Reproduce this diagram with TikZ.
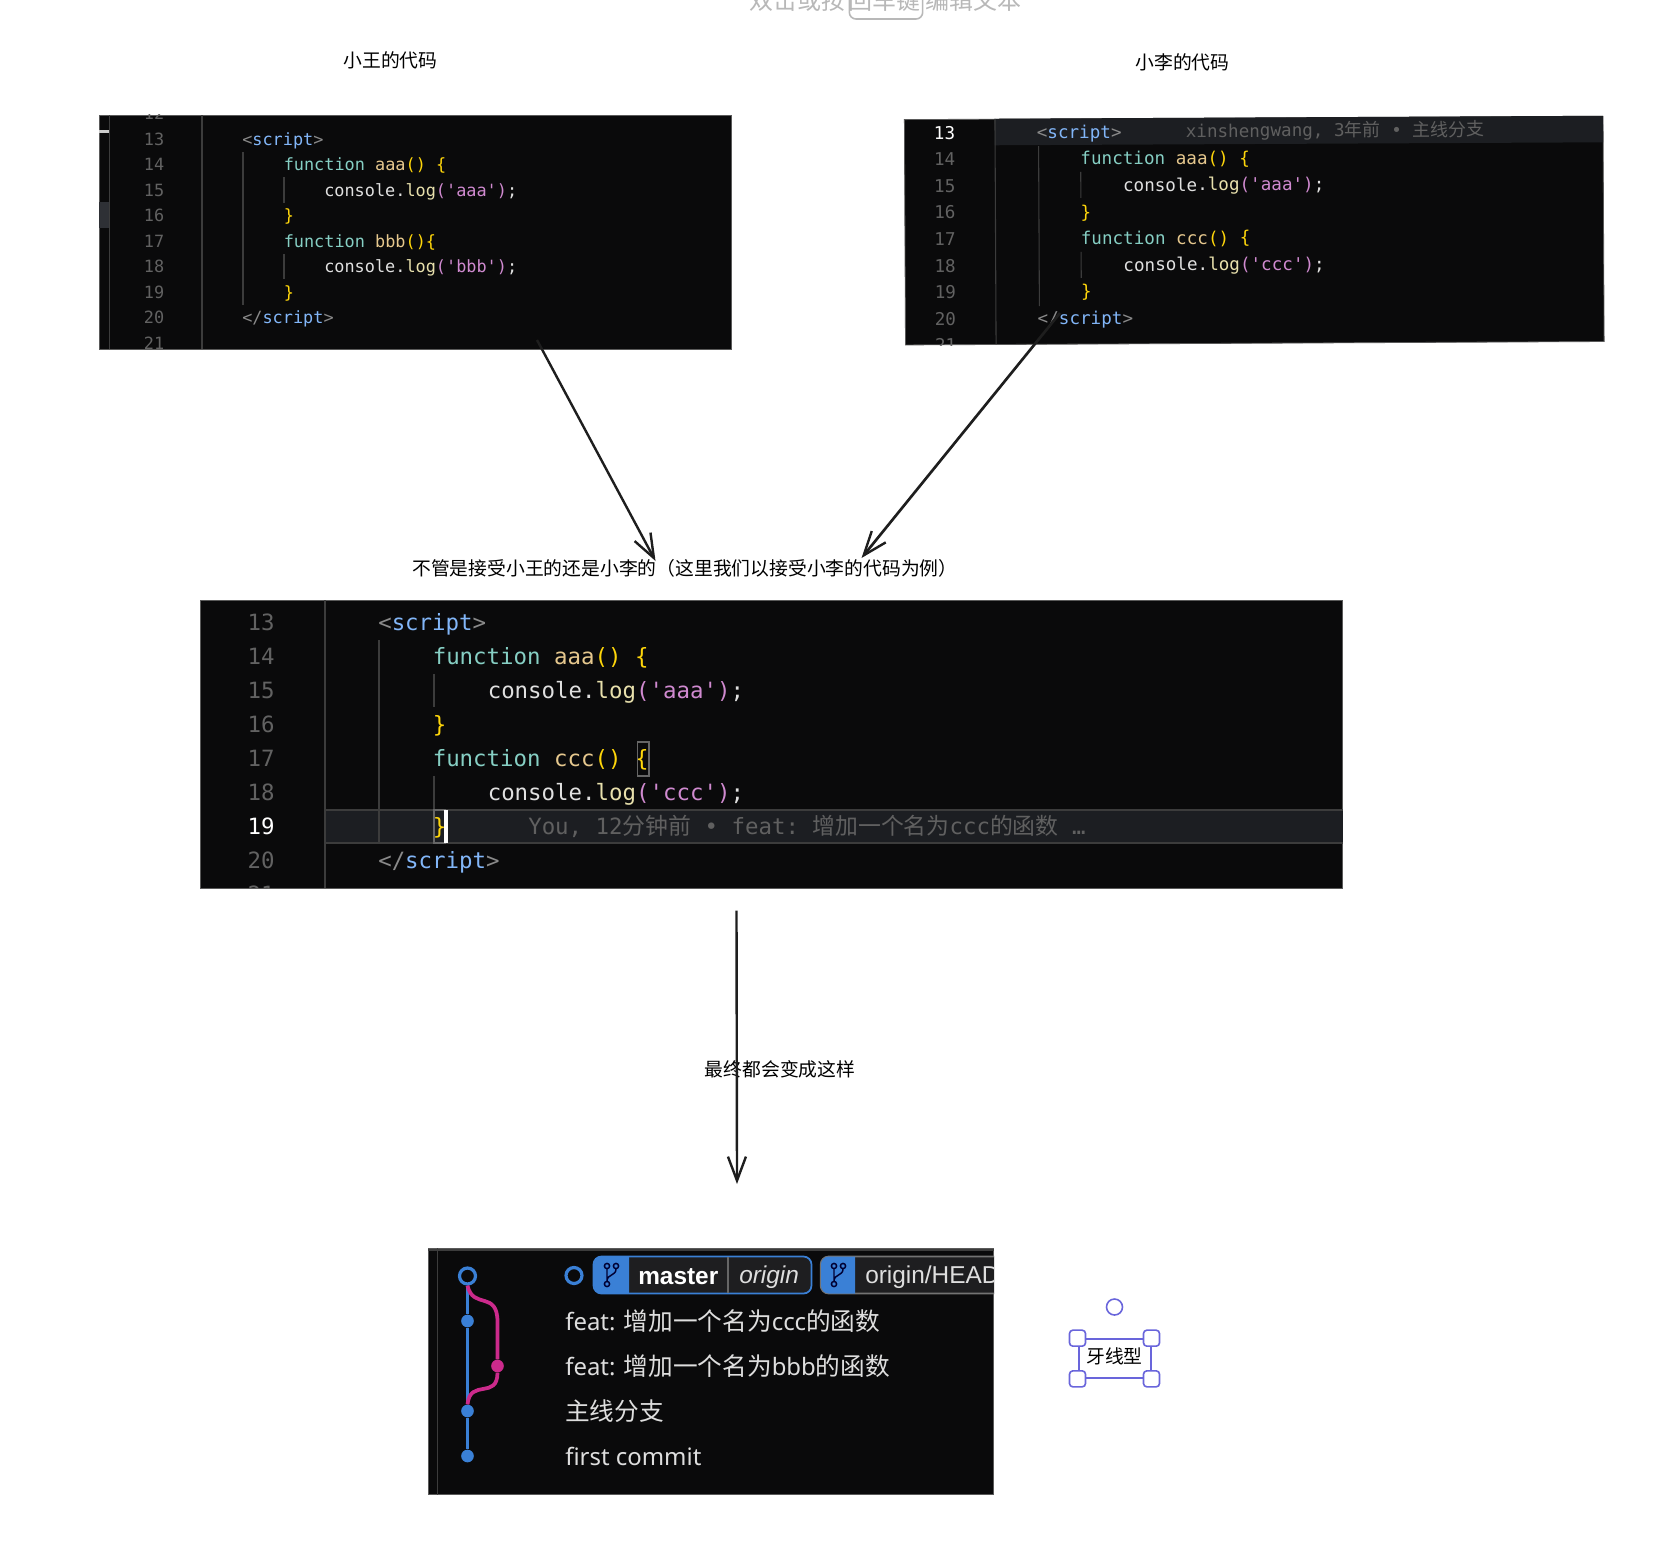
\documentclass[tikz,border=0pt]{standalone}
\usepackage{fontspec}
\usetikzlibrary{arrows.meta}
\setmainfont{Liberation Sans}
\setmonofont{DejaVu Sans Mono}
\newfontfamily\cjk{Noto Sans CJK SC}
\newfontfamily\cjkcode[Scale=1.02]{Noto Sans CJK SC}
\newfontfamily\rowfont[Scale=.97]{Noto Sans}
\definecolor{panelbg}{HTML}{0A0A0B}
\definecolor{panelline}{HTML}{5A5A5A}
\definecolor{guidecol}{HTML}{3C3C3C}
\definecolor{numcol}{HTML}{626262}
\definecolor{hlcol}{HTML}{1C1E22}
\definecolor{scrollcol}{HTML}{2E3035}
\definecolor{blamecol}{HTML}{606060}
\definecolor{fncol}{HTML}{86CFC4}
\definecolor{namecol}{HTML}{E6C88E}
\definecolor{bracecol}{HTML}{FFD60A}
\definecolor{conscol}{HTML}{E0E0E0}
\definecolor{logcol}{HTML}{E8E0AC}
\definecolor{strcol}{HTML}{D08AD0}
\definecolor{tagcol}{HTML}{8A8A8A}
\definecolor{scriptcol}{HTML}{82B6F8}
\definecolor{gitblue}{HTML}{3A80D6}
\definecolor{gitpink}{HTML}{CC2A8C}
\definecolor{gittext}{HTML}{DEDEDE}
\definecolor{badgebg}{HTML}{1E1E20}
\definecolor{selectcol}{HTML}{6965DB}
\definecolor{inkcol}{HTML}{1E1E1E}
\newcommand\kwd[1]{\textcolor{fncol}{#1}}
\newcommand\fnm[1]{\textcolor{namecol}{#1}}
\newcommand\brc[1]{\textcolor{bracecol}{#1}}
\newcommand\cns[1]{\textcolor{conscol}{console.}\textcolor{logcol}{log}\textcolor{strcol}{('#1')}\textcolor{conscol}{;}}
\newcommand\opentag{\textcolor{tagcol}{<}\textcolor{scriptcol}{script}\textcolor{tagcol}{>}}
\newcommand\closetag{\textcolor{tagcol}{</}\textcolor{scriptcol}{script}\textcolor{tagcol}{>}}
\begin{document}
\begin{tikzpicture}[
    x=.75pt, y=-.75pt,
    >={Straight Barb[length=18pt,width=13.5pt,line width=1.8pt]},
    panel/.style={rectangle, draw=panelline, fill=panelbg, line width=.6pt, anchor=north west, inner sep=0pt},
    guide/.style={guidecol, line width=.8pt},
    sizea/.style={font=\fontsize{12.65}{15}\selectfont\ttfamily},
    sizeb/.style={font=\fontsize{13.2}{15}\selectfont\ttfamily},
    sizec/.style={font=\fontsize{16.8}{20}\selectfont\ttfamily},
    code/.style={anchor=west, inner sep=0pt, text height=.8em, text depth=.2em},
    num/.style={inner sep=0pt, text=numcol, text height=.8em, text depth=.2em},
    caption/.style={inner sep=0pt, text=black, font=\cjk\fontsize{14.1}{16}\selectfont},
    arrow/.style={->, inkcol, line width=1.8pt},
    gitrow/.style={anchor=west, inner sep=0pt, text=gittext, font=\fontsize{18.5}{22}\selectfont},
    gitdot/.style={circle, fill=gitblue, inner sep=0pt, minimum size=9.5pt},
    gitring/.style={circle, draw=gitblue, fill=panelbg, line width=2.4pt, inner sep=0pt, minimum size=10pt},
    gitline/.style={gitblue, line width=2.2pt},
    pinkline/.style={gitpink, line width=2.8pt},
    badge/.style={rectangle, rounded corners=6pt, fill=badgebg, line width=1.3pt, inner sep=0pt, minimum height=27.75pt},
    handle/.style={rectangle, rounded corners=2.5pt, draw=selectcol, fill=white, line width=1.2pt, inner sep=0pt, minimum size=12pt},
    branchicon/.pic={
        \draw[black!80!blue, line width=1.1pt] (-4,-9) circle (2.6) (5,-9) circle (2.6) (-4,9) circle (2.6);
        \draw[black!80!blue, line width=1.1pt] (-4,-6) -- (-4,6) (5,-6) .. controls (5,1) and (-4,-1) .. (-4,6);
    }
]
\useasboundingbox (0,0) rectangle (1666,1546);

\node[inner sep=0pt, text=black!28, font=\cjk\fontsize{18}{20}\selectfont] (hint) at (885,0) {双击或按\,回车键\,编辑文本};
\node[rectangle, rounded corners=5pt, draw=black!28, line width=1.2pt, inner sep=0pt, minimum width=55pt, minimum height=30pt] (hintkey) at (886,-1) {};

\node[caption] (wanglabel) at (390.5,60.5) {小王的代码};
\node[caption] (lilabel) at (1182.5,62.5) {小李的代码};

\node[panel, minimum width=474pt, minimum height=175.5pt] (wangcode) at (98.5,114.5) {};
\begin{scope}
\clip (wangcode.south west) rectangle (wangcode.north east);
\fill[white!80!black] (98.5,130) rectangle (109,133);
\fill[scrollcol] (98.5,202) rectangle (109,228);
\draw[guide] (109.5,115) -- (109.5,348.5) (202,115) -- (202,348.5);
\draw[guide] (243,152) -- (243,305) (284,177) -- (284,203) (284,254) -- (284,279);
\foreach \n [evaluate=\n as \y using 141+(\n-13)*25.5] in {12,...,21}
    \node[num, sizea] (wangnum\n) at (154,\y) {\n};
\node[code, sizea] (wangline13) at (242,141) {\opentag};
\node[code, sizea] (wangline14) at (283.5,166.5) {\kwd{function} \fnm{aaa}\brc{() \{}};
\node[code, sizea] (wangline15) at (324,192) {\cns{aaa}};
\node[code, sizea] (wangline16) at (283.5,217.5) {\brc{\}}};
\node[code, sizea] (wangline17) at (283.5,243) {\kwd{function} \fnm{bbb}\brc{()\{}};
\node[code, sizea] (wangline18) at (324,268.5) {\cns{bbb}};
\node[code, sizea] (wangline19) at (283.5,294) {\brc{\}}};
\node[code, sizea] (wangline20) at (242,319.5) {\closetag};
\end{scope}

\begin{scope}[rotate around={.28:(1254,230)}, transform shape]
\node[panel, minimum width=524pt, minimum height=169pt] (licode) at (904.5,117.5) {};
\clip (licode.south west) rectangle (licode.north east);
\fill[hlcol] (995,117.5) rectangle (1603.5,144);
\draw[guide] (995.5,117.5) -- (995.5,343);
\draw[guide] (1039,145) -- (1039,305) (1081,171) -- (1081,197) (1081,251) -- (1081,277);
\foreach \n [evaluate=\n as \y using 133.5+(\n-13)*26.6] in {14,...,21}
    \node[num, sizeb] (linum\n) at (945,\y) {\n};
\node[num, sizeb, text=white] (linum13) at (945,133.5) {13};
\node[code, sizeb] (liline13) at (1037,133.5) {\opentag};
\node[code, sizeb, text=blamecol] (liblame) at (1186,133) {xinshengwang, 3{\cjkcode 年前} • {\cjkcode 主线分支}};
\node[code, sizeb] (liline14) at (1080.5,160) {\kwd{function} \fnm{aaa}\brc{() \{}};
\node[code, sizeb] (liline15) at (1123,186.7) {\cns{aaa}};
\node[code, sizeb] (liline16) at (1080.5,213.3) {\brc{\}}};
\node[code, sizeb] (liline17) at (1080.5,239.9) {\kwd{function} \fnm{ccc}\brc{() \{}};
\node[code, sizeb] (liline18) at (1123,266.5) {\cns{ccc}};
\node[code, sizeb] (liline19) at (1080.5,293.1) {\brc{\}}};
\node[code, sizeb] (liline20) at (1037,319.7) {\closetag};
\end{scope}

\node[caption, anchor=west] (middlelabel) at (412,568) {不管是接受小王的还是小李的（这里我们以接受小李的代码为例）};

\node[panel, minimum width=857pt, minimum height=216pt] (mergecode) at (199.5,600) {};
\begin{scope}
\clip (mergecode.south west) rectangle (mergecode.north east);
\fill[hlcol] (325,810) rectangle (1343,843);
\draw[guide] (325,600) -- (325,888) (325,810) -- (1343,810) (325,843) -- (1343,843);
\draw[guide] (379,640) -- (379,843) (434,674) -- (434,707) (434,776) -- (434,843);
\foreach \n [evaluate=\n as \y using 626+(\n-13)*34] in {13,...,18,20,21}
    \node[num, sizec] (mergenum\n) at (261,\y) {\n};
\node[num, sizec, text=white] (mergenum19) at (261,830) {19};
\node[code, sizec] (mergeline13) at (378,626) {\opentag};
\node[code, sizec] (mergeline14) at (432.5,660) {\kwd{function} \fnm{aaa}\brc{() \{}};
\node[code, sizec] (mergeline15) at (487.5,694) {\cns{aaa}};
\node[code, sizec] (mergeline16) at (432.5,728) {\brc{\}}};
\node[code, sizec] (mergeline17) at (432.5,762) {\kwd{function} \fnm{ccc}\brc{() \{}};
\node[code, sizec] (mergeline18) at (487.5,796) {\cns{ccc}};
\node[code, sizec] (mergeline19) at (432.5,830) {\brc{\}}};
\node[code, sizec, text=blamecol] (mergeblame) at (528,830.5) {You, 12{\cjkcode 分钟前} • feat: {\cjkcode 增加一个名为}ccc{\cjkcode 的函数} …};
\node[code, sizec] (mergeline20) at (378,864) {\closetag};
\draw[black!60, line width=.8pt] (637.5,742) rectangle (649,776) (434,810) rectangle (445,843);
\fill[white] (444,810) rectangle (447.5,843);
\end{scope}

\node[caption] (finallabel) at (780,1069) {最终都会变成这样};

\node[panel, minimum width=424pt, minimum height=184.5pt] (gitpanel) at (428,1248) {};
\begin{scope}
\clip (gitpanel.south west) rectangle (gitpanel.north east);
\draw[guide] (437.5,1248) -- (437.5,1495) (428,1250) -- (993.5,1250);
\node[gitring, minimum size=12pt] (gittop) at (467.5,1276) {};
\node[gitdot] (gita) at (467.5,1321) {};
\node[gitdot, fill=gitpink] (gitb) at (497.5,1366) {};
\node[gitdot] (gitc) at (467.5,1411) {};
\node[gitdot] (gitd) at (467.5,1456) {};
\draw[gitline] (gittop) -- (gita);
\draw[gitline] (gita) -- (gitc);
\draw[gitline] (gitc) -- (gitd);
\draw[pinkline] (gittop.south) .. controls (473,1310) and (497.5,1290) .. (497.5,1322) -- (gitb);
\draw[pinkline] (gitb) .. controls (497.5,1400) and (470,1378) .. (gitc.north);
\node[gitring, minimum size=12pt] (headring) at (574,1275.5) {};
\node[badge, draw=gitblue, minimum width=163.5pt] (masterbadge) at (702.5,1275) {};
\begin{scope}
\clip (590,1250) rectangle (629,1300);
\fill[gitblue, rounded corners=6pt] (594,1256.5) rectangle (680,1293.5);
\end{scope}
\draw[black!60, line width=.8pt] (728,1257) -- (728,1293);
\pic at (611,1275) {branchicon};
\node[gitrow, text=white, font=\bfseries\fontsize{18.3}{22}\selectfont] (mastertext) at (638,1277) {master};
\node[gitrow, font=\itshape\fontsize{18.3}{22}\selectfont] (origintext) at (739,1277) {origin};
\node[badge, draw=black!55, minimum width=143pt] (headbadge) at (916,1275) {};
\begin{scope}
\clip (818,1250) rectangle (855,1300);
\fill[gitblue, rounded corners=6pt] (821,1256.5) rectangle (900,1293.5);
\end{scope}
\pic at (838,1275) {branchicon};
\node[gitrow, font=\fontsize{18.3}{22}\selectfont] (headtext) at (865,1277) {origin/HEAD};
\node[gitrow] (rowa) at (565,1321) {\rowfont feat: {\cjk 增加一个名为}ccc{\cjk 的函数}};
\node[gitrow] (rowb) at (565,1366) {\rowfont feat: {\cjk 增加一个名为}bbb{\cjk 的函数}};
\node[gitrow] (rowc) at (565,1411) {\cjk 主线分支};
\node[gitrow] (rowd) at (565,1456) {\rowfont first commit};
\end{scope}

\node[caption, rectangle, draw=selectcol, line width=1.5pt, minimum width=54pt, minimum height=29pt] (toothbox) at (1114.5,1358.5) {\raisebox{1.6pt}[\height][\depth]{牙线型}};
\node[handle] (handlea) at (toothbox.north west) {};
\node[handle] (handleb) at (toothbox.north east) {};
\node[handle] (handlec) at (toothbox.south west) {};
\node[handle] (handled) at (toothbox.south east) {};
\node[circle, draw=selectcol, fill=white, line width=1.2pt, inner sep=0pt, minimum size=12pt] (handletop) at (1114.5,1307) {};

\coordinate (wangout) at (537,340);
\coordinate (wangin) at (655.5,561);
\coordinate (liout) at (1060,313);
\coordinate (liin) at (861.5,558);
\coordinate (mergeout) at (736.5,910.5);
\coordinate (gitin) at (737,1184);
\draw[arrow] (wangout) -- (wangin);
\draw[arrow, line width=2pt] (liout) -- (liin);
\draw[arrow] (mergeout) -- (gitin);
\end{tikzpicture}
\end{document}
